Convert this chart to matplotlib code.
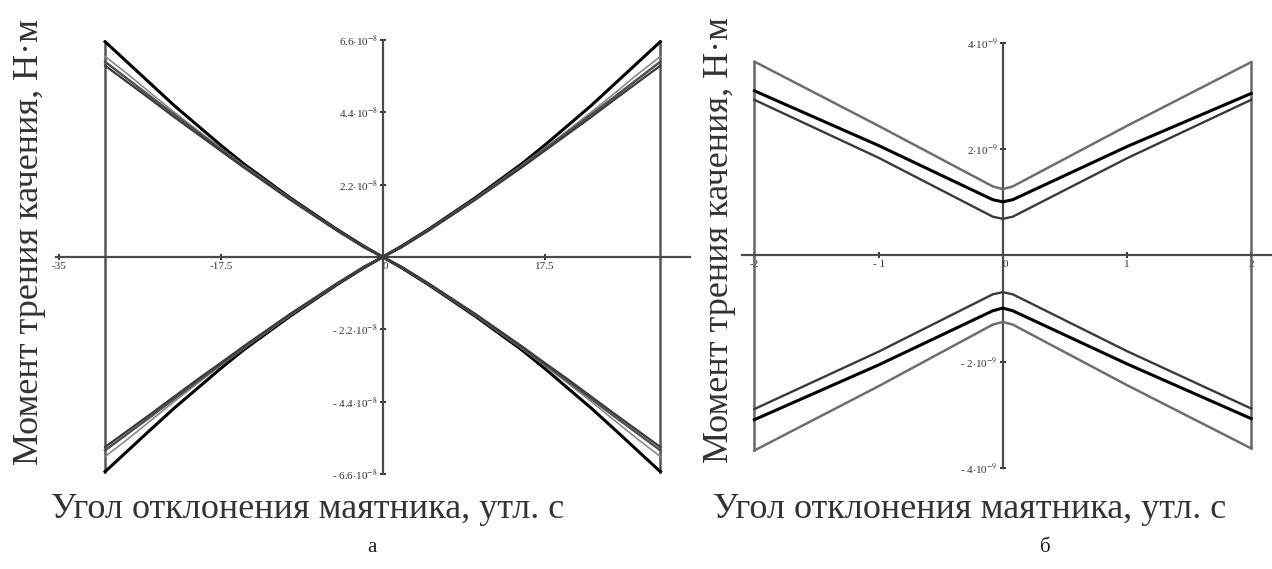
import matplotlib
matplotlib.use("Agg")
import matplotlib.pyplot as plt

plt.rcParams["font.family"] = ["Liberation Serif", "DejaVu Serif"]
plt.rcParams["mathtext.fontset"] = "stix"

# panel a: angle (arc sec) vs rolling friction moment, units of 1e-8 N*m
A_X = [-30, -27.5, -25, -22.5, -20, -17.5, -15, -10, -5, -2, 0,
       2, 5, 10, 15, 17.5, 20, 22.5, 25, 27.5, 30]
A_BLACK_UP = [6.55, 5.90, 5.25, 4.60, 4.00, 3.40, 2.83, 1.80, 0.85, 0.32, 0,
              0.32, 0.85, 1.80, 2.83, 3.40, 4.00, 4.60, 5.25, 5.90, 6.55]
A_BLACK_DN = [-6.53, -5.88, -5.23, -4.59, -3.99, -3.39, -2.82, -1.80, -0.85, -0.32, 0,
              -0.32, -0.85, -1.80, -2.82, -3.39, -3.99, -4.59, -5.23, -5.88, -6.53]
A_LIGHT_UP = [6.10, 5.55, 4.97, 4.40, 3.85, 3.31, 2.79, 1.78, 0.84, 0.31, 0,
              0.31, 0.84, 1.78, 2.79, 3.31, 3.85, 4.40, 4.97, 5.55, 6.10]
A_LIGHT_DN = [-6.07, -5.53, -4.96, -4.39, -3.84, -3.30, -2.78, -1.78, -0.84, -0.31, 0,
              -0.31, -0.84, -1.78, -2.78, -3.30, -3.84, -4.39, -4.96, -5.53, -6.07]
A_DARK1_UP = [5.94, 5.40, 4.86, 4.33, 3.80, 3.28, 2.77, 1.77, 0.83, 0.30, 0,
              0.30, 0.83, 1.77, 2.77, 3.28, 3.80, 4.33, 4.86, 5.40, 5.94]
A_DARK1_DN = [-5.88, -5.36, -4.84, -4.31, -3.78, -3.27, -2.76, -1.76, -0.83, -0.30, 0,
              -0.30, -0.83, -1.76, -2.76, -3.27, -3.78, -4.31, -4.84, -5.36, -5.88]
A_DARK2_UP = [5.82, 5.30, 4.78, 4.25, 3.74, 3.23, 2.72, 1.74, 0.81, 0.29, 0,
              0.29, 0.81, 1.74, 2.72, 3.23, 3.74, 4.25, 4.78, 5.30, 5.82]
A_DARK2_DN = [-5.78, -5.27, -4.76, -4.24, -3.72, -3.22, -2.71, -1.73, -0.81, -0.29, 0,
              -0.29, -0.81, -1.73, -2.71, -3.22, -3.72, -4.24, -4.76, -5.27, -5.78]
A_XTICKS = [-35, -17.5, 0, 17.5]
A_XTICKLABELS = ["-35", "-17.5", "0", "17.5"]
A_YTICKS = [6.6, 4.4, 2.2, -2.2, -4.4, -6.6]
A_YTICKLABELS = [r"6.6$\cdot$10$^{-8}$", r"4.4$\cdot$10$^{-8}$", r"2.2$\cdot$10$^{-8}$",
                 r"- 2.2$\cdot$10$^{-8}$", r"- 4.4$\cdot$10$^{-8}$", r"- 6.6$\cdot$10$^{-8}$"]

# panel b: units of 1e-9 N*m
B_X = [-2, -1, -0.08, 0, 0.08, 1, 2]
B_OUTER_UP = [3.65, 2.44, 1.30, 1.25, 1.30, 2.44, 3.64]
B_OUTER_DN = [-3.67, -2.46, -1.30, -1.25, -1.30, -2.44, -3.63]
B_BLACK_UP = [3.10, 2.07, 1.05, 1.01, 1.05, 2.05, 3.05]
B_BLACK_DN = [-3.09, -2.06, -1.04, -0.99, -1.04, -2.04, -3.07]
B_INNER_UP = [2.93, 1.84, 0.73, 0.69, 0.73, 1.83, 2.93]
B_INNER_DN = [-2.89, -1.81, -0.73, -0.69, -0.73, -1.80, -2.88]
B_XTICKS = [-2, -1, 0, 1, 2]
B_XTICKLABELS = ["-2", "- 1", "0", "1", "2"]
B_YTICKS = [4, 2, -2, -4]
B_YTICKLABELS = [r"4$\cdot$10$^{-9}$", r"2$\cdot$10$^{-9}$", r"- 2$\cdot$10$^{-9}$", r"- 4$\cdot$10$^{-9}$"]

YLABEL = "Момент трения качения, Н·м"
XLABEL = "Угол отклонения маятника, утл. с"

SPINE = "#4a4a4a"


def style_axes(ax, xticks, xlabels, yticks, ylabels):
    for side in ("top", "right"):
        ax.spines[side].set_visible(False)
    for side in ("left", "bottom"):
        ax.spines[side].set_position(("data", 0))
        ax.spines[side].set_color(SPINE)
        ax.spines[side].set_linewidth(1.6)
    ax.set_xticks(xticks)
    ax.set_xticklabels(xlabels)
    ax.set_yticks(yticks)
    ax.set_yticklabels(ylabels)
    ax.tick_params(direction="inout", length=5, width=1.3, color="#222222",
                   labelsize=8, labelcolor="#333333", pad=1)
    for lab in ax.get_xticklabels():
        if lab.get_text() == "0":
            lab.set_horizontalalignment("left")
    ax.patch.set_alpha(0)


fig = plt.figure(figsize=(12.72, 5.69), dpi=100)

# --- panel a
ax1 = fig.add_axes([56 / 1272, 1 - 474 / 569, 634 / 1272, 434 / 569])
x_end = [A_X[0], A_X[-1]]
for xe, lo, hi in zip(x_end, [A_BLACK_DN[0], A_BLACK_DN[-1]], [A_BLACK_UP[0], A_BLACK_UP[-1]]):
    ax1.plot([xe, xe], [lo, hi], color="#555555", lw=1.8, zorder=2)
for up, dn, col, lw in [
    (A_BLACK_UP, A_BLACK_DN, "#000000", 2.2),
    (A_LIGHT_UP, A_LIGHT_DN, "#8a8a8a", 1.2),
    (A_DARK1_UP, A_DARK1_DN, "#505050", 1.8),
    (A_DARK2_UP, A_DARK2_DN, "#3c3c3c", 1.6),
]:
    ax1.plot(A_X, up, color=col, lw=lw, zorder=3)
    ax1.plot(A_X, dn, color=col, lw=lw, zorder=3)
ax1.set_xlim(-35.3, 33.2)
ax1.set_ylim(-6.6, 6.6)
style_axes(ax1, A_XTICKS, A_XTICKLABELS, A_YTICKS, A_YTICKLABELS)

# --- panel b
ax2 = fig.add_axes([742 / 1272, 1 - 468 / 569, 529 / 1272, 425 / 569])
for xe, lo, hi in zip([B_X[0], B_X[-1]], [B_OUTER_DN[0], B_OUTER_DN[-1]], [B_OUTER_UP[0], B_OUTER_UP[-1]]):
    ax2.plot([xe, xe], [lo, hi], color="#666666", lw=1.8, zorder=2)
for up, dn, col, lw in [
    (B_OUTER_UP, B_OUTER_DN, "#6e6e6e", 1.8),
    (B_INNER_UP, B_INNER_DN, "#3a3a3a", 1.7),
    (B_BLACK_UP, B_BLACK_DN, "#000000", 2.2),
]:
    ax2.plot(B_X, up, color=col, lw=lw, zorder=3)
    ax2.plot(B_X, dn, color=col, lw=lw, zorder=3)
ax2.set_xlim(-2.10, 2.16)
ax2.set_ylim(-4, 4)
style_axes(ax2, B_XTICKS, B_XTICKLABELS, B_YTICKS, B_YTICKLABELS)

# axis titles and panel letters
label_kw = dict(fontsize=26, color="#333333")
fig.text(30 / 1272, 1 - 242 / 569, YLABEL, rotation=90, ha="center", va="center", **label_kw)
fig.text(720 / 1272, 1 - 240 / 569, YLABEL, rotation=90, ha="center", va="center", **label_kw)
fig.text(308 / 1272, 1 - 510 / 569, XLABEL, ha="center", va="center", **label_kw)
fig.text(970 / 1272, 1 - 510 / 569, XLABEL, ha="center", va="center", **label_kw)
fig.text(372 / 1272, 1 - 548 / 569, "а", ha="center", va="center", fontsize=15, color="#222222")
fig.text(1045 / 1272, 1 - 548 / 569, "б", ha="center", va="center", fontsize=15, color="#222222")

fig.savefig("out.png", dpi=100, facecolor="white")
